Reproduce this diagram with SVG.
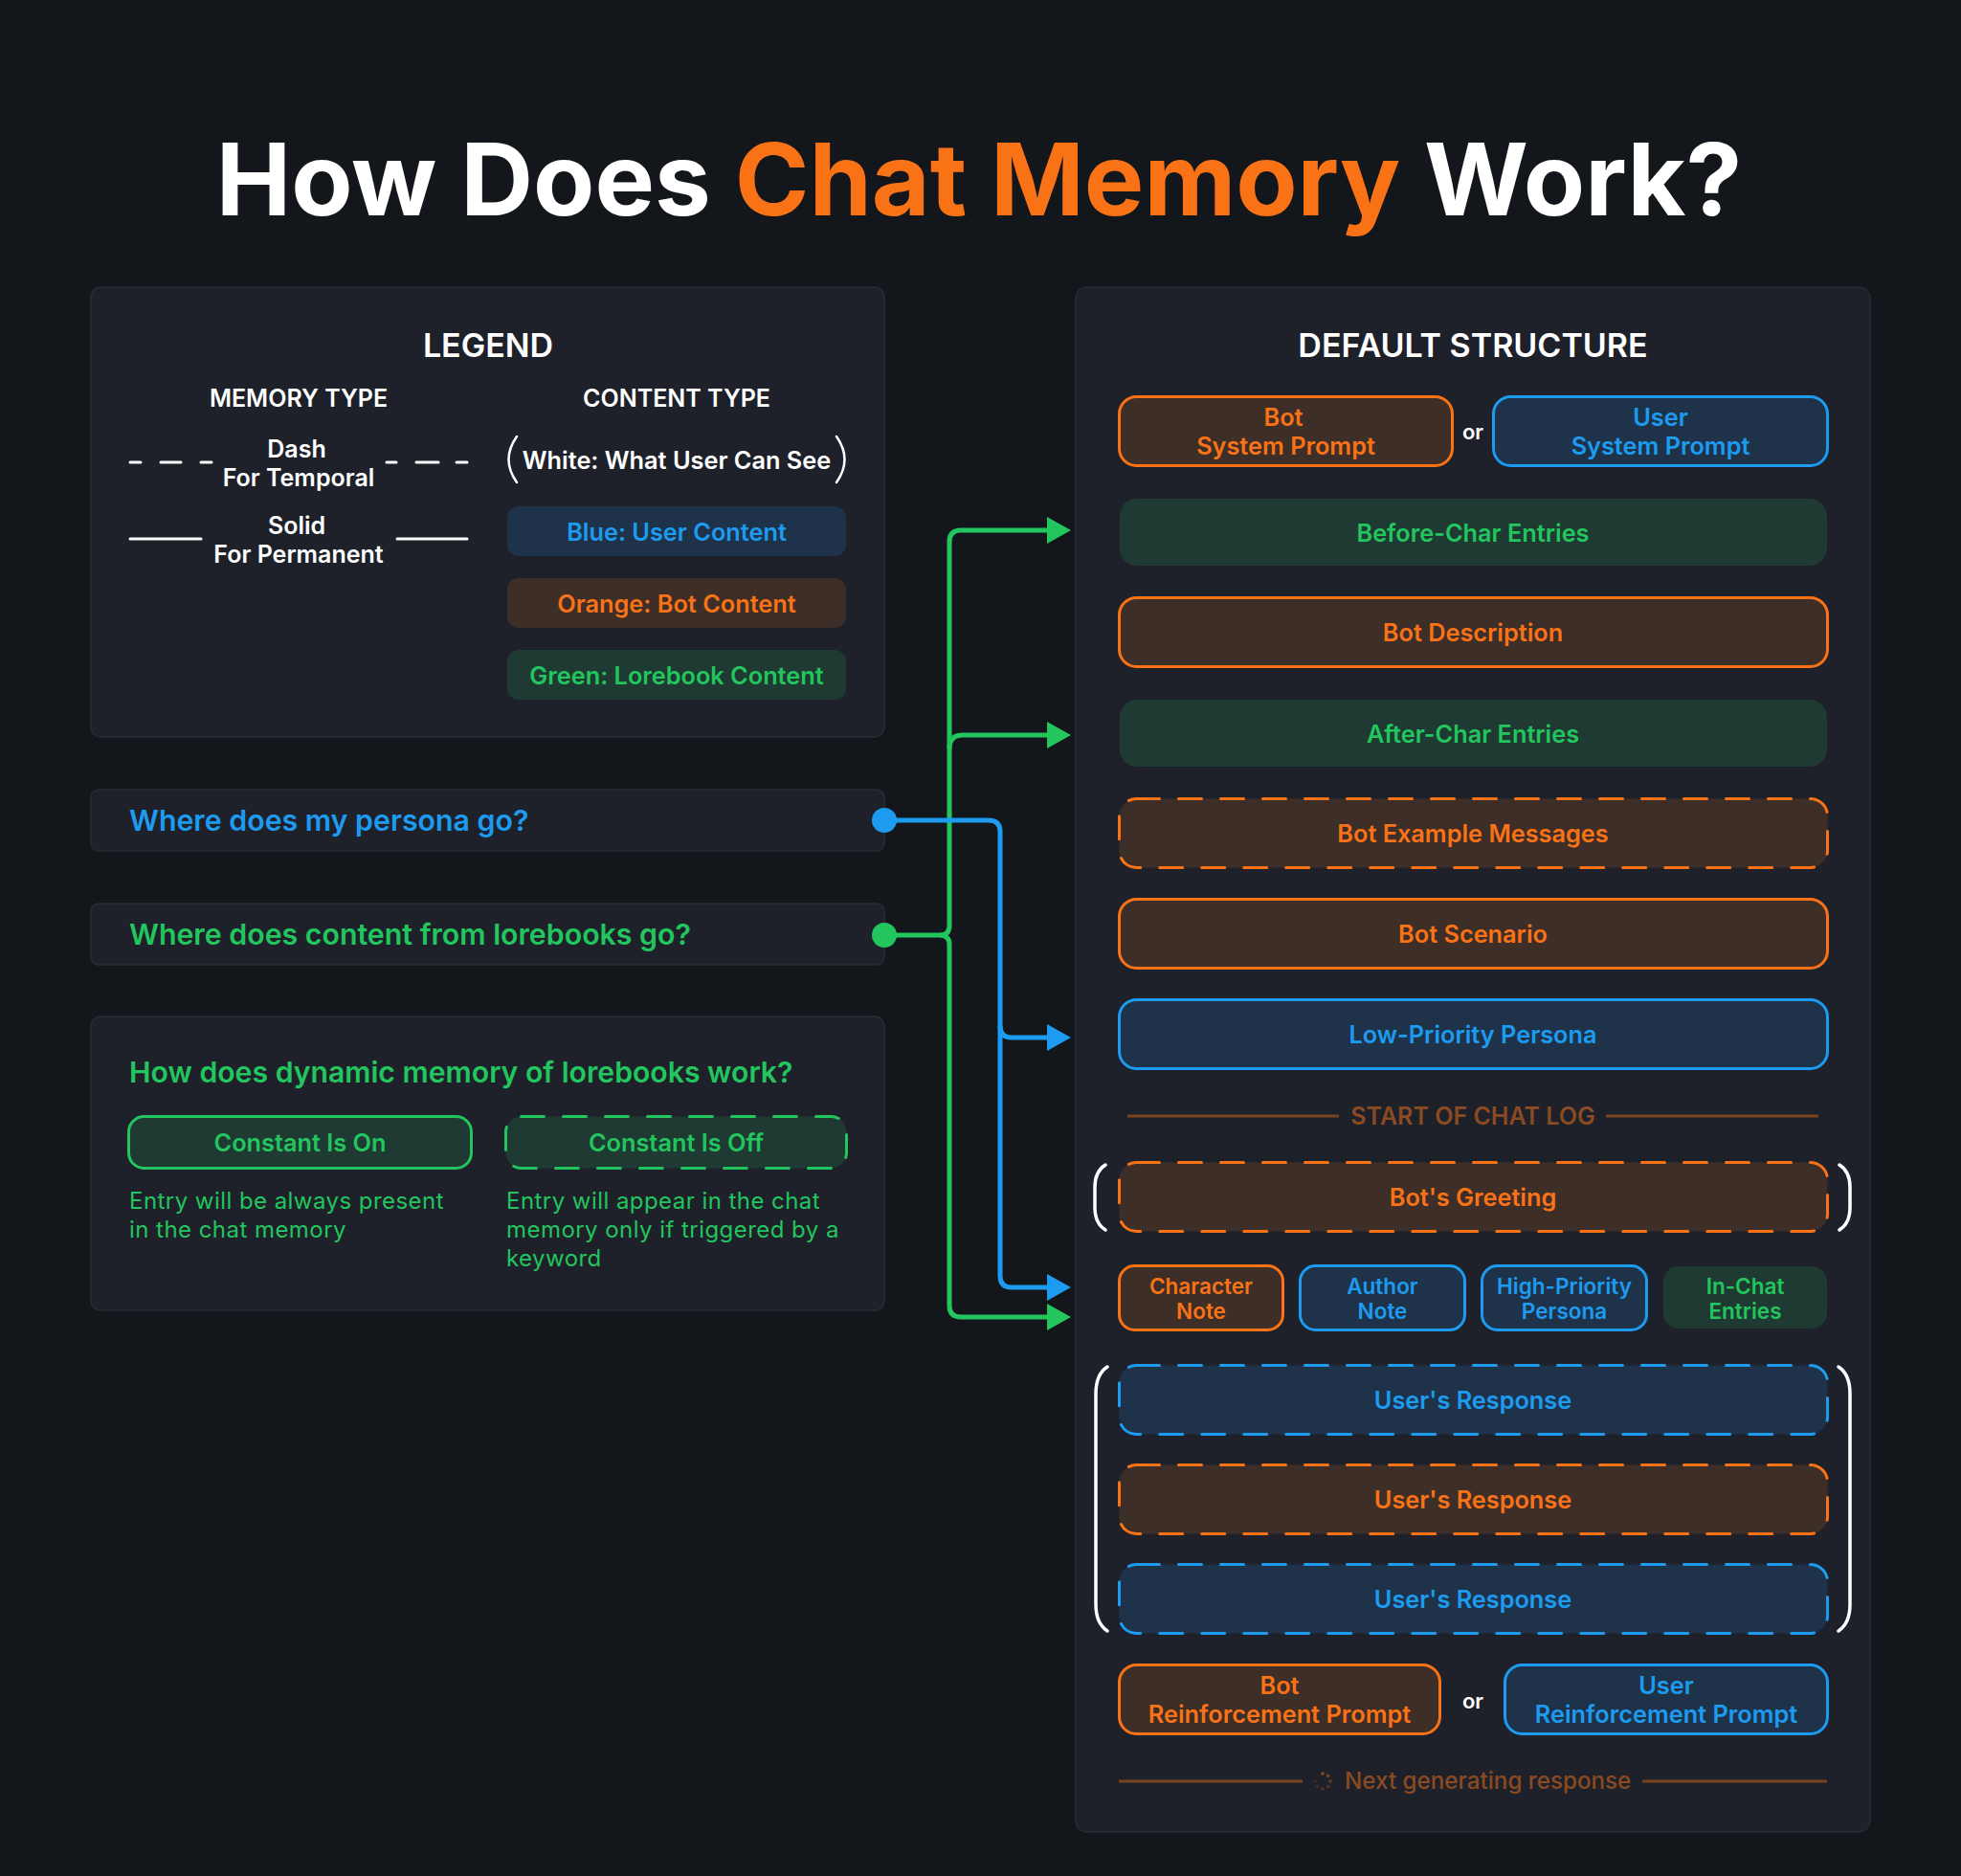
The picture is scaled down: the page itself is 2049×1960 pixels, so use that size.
<svg xmlns="http://www.w3.org/2000/svg" width="2049" height="1960" viewBox="0 0 2049 1960">
<defs>
<style>
text{font-family:Inter,"Noto Sans","Liberation Sans",sans-serif}
.h{font-size:34px;font-weight:600;fill:#fff;text-anchor:middle}
.sub{font-size:25px;font-weight:600;fill:#fff;text-anchor:middle}
.lbl{font-size:25.3px;font-weight:600;text-anchor:middle}
.sm{font-size:22.5px;font-weight:600;text-anchor:middle}
.orw{font-size:22px;font-weight:600;fill:#fff;text-anchor:middle}
.q{font-size:30.3px;font-weight:600}
.desc{font-size:24px;font-weight:400;fill:#22c55e;letter-spacing:0.45px}
.o{fill:#f97316}.u{fill:#1d9bf0}.g{fill:#22c55e}.w{fill:#fff}
.panel{fill:#1e2129;stroke:#282c35;stroke-width:1.5}
.bo{fill:#3e2e28;stroke:#f97316;stroke-width:3}
.bu{fill:#1e3349;stroke:#1d9bf0;stroke-width:3}
.bg{fill:#1f3a32;stroke:#22c55e;stroke-width:3}
.fo{fill:#3e2e28}.fu{fill:#1e3349}.fg{fill:#1f3a32}
.d{stroke-dasharray:24 20;stroke-linecap:round}
.brk{fill:none;stroke:#fff;stroke-width:3.5;stroke-linecap:round}
.wl{stroke:#fff;stroke-width:3;stroke-linecap:round}
.mute{fill:#8a4a22}
.ml{stroke:#7a4420;stroke-width:3}
.cg{fill:none;stroke:#22c55e;stroke-width:5;stroke-linejoin:round}
.cb{fill:none;stroke:#1d9bf0;stroke-width:5;stroke-linejoin:round}
</style>
<marker id="ag" markerUnits="userSpaceOnUse" markerWidth="26" markerHeight="30" viewBox="0 0 26 30" refX="3" refY="15" orient="auto"><path d="M0,1 L25,15 L0,29 Z" fill="#22c55e"/></marker>
<marker id="ab" markerUnits="userSpaceOnUse" markerWidth="26" markerHeight="30" viewBox="0 0 26 30" refX="3" refY="15" orient="auto"><path d="M0,1 L25,15 L0,29 Z" fill="#1d9bf0"/></marker>
</defs>

<rect x="0" y="0" width="2049" height="1960" fill="#13161b"/>

<text id="title" x="1023" y="225" font-size="105" font-weight="700" text-anchor="middle" fill="#fff">How Does <tspan fill="#f97316">Chat Memory</tspan> Work?</text>

<!-- LEGEND -->
<g id="legend">
<rect class="panel" x="95" y="300" width="829" height="470" rx="10"/>
<text class="h" x="510" y="373">LEGEND</text>
<text class="sub" x="312" y="425">MEMORY TYPE</text>
<text class="sub" x="707" y="425">CONTENT TYPE</text>
<g id="legend-dash">
<line class="wl" x1="136" y1="483" x2="147" y2="483"/>
<line class="wl" x1="168" y1="483" x2="189" y2="483"/>
<line class="wl" x1="210" y1="483" x2="221" y2="483"/>
<line class="wl" x1="404" y1="483" x2="414" y2="483"/>
<line class="wl" x1="435" y1="483" x2="458" y2="483"/>
<line class="wl" x1="477" y1="483" x2="488" y2="483"/>
<text class="sub" x="310" y="478">Dash</text>
<text class="sub" x="312" y="508">For Temporal</text>
</g>
<g id="legend-solid">
<line class="wl" x1="136" y1="563" x2="210" y2="563"/>
<line class="wl" x1="415" y1="563" x2="488" y2="563"/>
<text class="sub" x="310" y="558">Solid</text>
<text class="sub" x="312" y="588">For Permanent</text>
</g>
<g id="legend-white">
<path class="brk" style="stroke-width:2.5" d="M540,456 Q523,480 540,504"/>
<path class="brk" style="stroke-width:2.5" d="M874,456 Q891,480 874,504"/>
<text class="lbl w" x="707" y="489.5">White: What User Can See</text>
</g>
<g id="legend-blue">
<rect class="fu" x="530" y="529" width="354" height="52" rx="12"/>
<text class="lbl u" x="707" y="564.5">Blue: User Content</text>
</g>
<g id="legend-orange">
<rect class="fo" x="530" y="604" width="354" height="52" rx="12"/>
<text class="lbl o" x="707" y="639.5">Orange: Bot Content</text>
</g>
<g id="legend-green">
<rect class="fg" x="530" y="679" width="354" height="52" rx="12"/>
<text class="lbl g" x="707" y="714.5">Green: Lorebook Content</text>
</g>
</g>

<!-- Questions -->
<g id="q-persona">
<rect class="panel" x="95" y="825" width="829" height="64" rx="8"/>
<text class="q u" x="135" y="868">Where does my persona go?</text>
</g>
<g id="q-lorebook">
<rect class="panel" x="95" y="944" width="829" height="64" rx="8"/>
<text class="q g" x="135" y="987">Where does content from lorebooks go?</text>
</g>

<g id="dynamic">
<rect class="panel" x="95" y="1062" width="829" height="307" rx="10"/>
<text class="g" x="135" y="1131" font-size="30.2" font-weight="600">How does dynamic memory of lorebooks work?</text>
<g id="const-on">
<rect class="bg" x="134.5" y="1166.5" width="358" height="54" rx="16"/>
<text class="lbl g" x="313.5" y="1203">Constant Is On</text>
<text class="desc" x="135" y="1263">Entry will be always present</text>
<text class="desc" x="135" y="1293">in the chat memory</text>
</g>
<g id="const-off">
<rect class="bg d" x="528.5" y="1166.5" width="356" height="54" rx="16"/>
<text class="lbl g" x="706.5" y="1203">Constant Is Off</text>
<text class="desc" x="529" y="1263">Entry will appear in the chat</text>
<text class="desc" x="529" y="1293">memory only if triggered by a</text>
<text class="desc" x="529" y="1323">keyword</text>
</g>
</g>

<!-- DEFAULT STRUCTURE -->
<g id="default-structure">
<rect class="panel" x="1124" y="300" width="830" height="1614" rx="12"/>
<text class="h" x="1539" y="373">DEFAULT STRUCTURE</text>

<g id="bot-system-prompt">
<rect class="bo" x="1169.5" y="414.5" width="348" height="72" rx="18"/>
<text class="lbl o" x="1341" y="445">Bot</text>
<text class="lbl o" x="1343.5" y="475">System Prompt</text>
</g>
<text class="orw" x="1539" y="459">or</text>
<g id="user-system-prompt">
<rect class="bu" x="1560.5" y="414.5" width="349" height="72" rx="18"/>
<text class="lbl u" x="1735" y="445">User</text>
<text class="lbl u" x="1735" y="475">System Prompt</text>
</g>

<g id="before-char">
<rect class="fg" x="1170" y="521" width="739" height="70" rx="18"/>
<text class="lbl g" x="1539" y="565.5">Before-Char Entries</text>
</g>
<g id="bot-description">
<rect class="bo" x="1169.5" y="624.5" width="740" height="72" rx="18"/>
<text class="lbl o" x="1539" y="670">Bot Description</text>
</g>
<g id="after-char">
<rect class="fg" x="1170" y="731" width="739" height="70" rx="18"/>
<text class="lbl g" x="1539" y="775.5">After-Char Entries</text>
</g>
<g id="bot-example">
<rect class="bo d" x="1169.5" y="834.5" width="740" height="72" rx="18"/>
<text class="lbl o" x="1539" y="880">Bot Example Messages</text>
</g>
<g id="bot-scenario">
<rect class="bo" x="1169.5" y="939.5" width="740" height="72" rx="18"/>
<text class="lbl o" x="1539" y="985">Bot Scenario</text>
</g>
<g id="low-priority-persona">
<rect class="bu" x="1169.5" y="1044.5" width="740" height="72" rx="18"/>
<text class="lbl u" x="1539" y="1090">Low-Priority Persona</text>
</g>

<g id="start-chat-log">
<line class="ml" x1="1178" y1="1166" x2="1399" y2="1166"/>
<line class="ml" x1="1678" y1="1166" x2="1900" y2="1166"/>
<text class="mute" x="1539" y="1175" font-size="25" font-weight="600" text-anchor="middle">START OF CHAT LOG</text>
</g>

<g id="bots-greeting">
<path class="brk" d="M1155,1217 Q1144,1224 1144,1240 V1262 Q1144,1278 1155,1285"/>
<path class="brk" d="M1922,1217 Q1933,1224 1933,1240 V1262 Q1933,1278 1922,1285"/>
<rect class="bo d" x="1169.5" y="1214.5" width="740" height="72" rx="18"/>
<text class="lbl o" x="1539" y="1260">Bot's Greeting</text>
</g>

<g id="character-note">
<rect class="bo" x="1169.5" y="1322.5" width="171" height="67" rx="16"/>
<text class="sm o" x="1255" y="1352">Character</text>
<text class="sm o" x="1255" y="1378">Note</text>
</g>
<g id="author-note">
<rect class="bu" x="1358.5" y="1322.5" width="172" height="67" rx="16"/>
<text class="sm u" x="1444.5" y="1352">Author</text>
<text class="sm u" x="1444.5" y="1378">Note</text>
</g>
<g id="high-priority-persona">
<rect class="bu" x="1548.5" y="1322.5" width="172" height="67" rx="16"/>
<text class="sm u" x="1634.5" y="1352">High-Priority</text>
<text class="sm u" x="1634.5" y="1378">Persona</text>
</g>
<g id="in-chat-entries">
<rect class="fg" x="1738" y="1323" width="171" height="65" rx="16"/>
<text class="sm g" x="1823.5" y="1352">In-Chat</text>
<text class="sm g" x="1823.5" y="1378">Entries</text>
</g>

<g id="responses">
<path class="brk" d="M1157,1428 Q1145,1436 1145,1456 V1676 Q1145,1696 1157,1704"/>
<path class="brk" d="M1921,1428 Q1933,1436 1933,1456 V1676 Q1933,1696 1921,1704"/>
<g id="users-response-1">
<rect class="bu d" x="1169.5" y="1426.5" width="740" height="72" rx="18"/>
<text class="lbl u" x="1539" y="1472">User's Response</text>
</g>
<g id="users-response-2">
<rect class="bo d" x="1169.5" y="1530.5" width="740" height="72" rx="18"/>
<text class="lbl o" x="1539" y="1576">User's Response</text>
</g>
<g id="users-response-3">
<rect class="bu d" x="1169.5" y="1634.5" width="740" height="72" rx="18"/>
<text class="lbl u" x="1539" y="1680">User's Response</text>
</g>
</g>

<g id="bot-reinforcement">
<rect class="bo" x="1169.5" y="1739.5" width="335" height="72" rx="18"/>
<text class="lbl o" x="1337" y="1770">Bot</text>
<text class="lbl o" x="1337" y="1800">Reinforcement Prompt</text>
</g>
<text class="orw" x="1539" y="1785">or</text>
<g id="user-reinforcement">
<rect class="bu" x="1572.5" y="1739.5" width="337" height="72" rx="18"/>
<text class="lbl u" x="1741" y="1770">User</text>
<text class="lbl u" x="1741" y="1800">Reinforcement Prompt</text>
</g>

<g id="next-response">
<line class="ml" x1="1169" y1="1861" x2="1361" y2="1861"/>
<line class="ml" x1="1716" y1="1861" x2="1909" y2="1861"/>
<g class="mute">
<circle cx="1382" cy="1853" r="1.8"/>
<circle cx="1387.7" cy="1855.3" r="1.8" opacity="0.85"/>
<circle cx="1390" cy="1861" r="1.8" opacity="0.7"/>
<circle cx="1387.7" cy="1866.7" r="1.8" opacity="0.55"/>
<circle cx="1382" cy="1869" r="1.8" opacity="0.45"/>
<circle cx="1376.3" cy="1866.7" r="1.8" opacity="0.35"/>
<circle cx="1374" cy="1861" r="1.8" opacity="0.25"/>
<circle cx="1376.3" cy="1855.3" r="1.8" opacity="0.15"/>
</g>
<text class="mute" x="1405" y="1869" font-size="24.2" font-weight="500">Next generating response</text>
</g>
</g>

<!-- CONNECTORS -->
<g id="connectors">
<path class="cg" d="M924,977 H982 Q992,977 992,967 V566 Q992,554 1004,554 H1097" marker-end="url(#ag)"/>
<path class="cg" d="M992,782 Q992,768 1006,768 H1097" marker-end="url(#ag)"/>
<path class="cg" d="M982,977 Q992,977 992,987 V1364 Q992,1376 1004,1376 H1097" marker-end="url(#ag)"/>
<path class="cb" d="M924,857 H1033 Q1045,857 1045,869 V1333 Q1045,1345 1057,1345 H1097" marker-end="url(#ab)"/>
<path class="cb" d="M1045,1072 Q1045,1084 1057,1084 H1097" marker-end="url(#ab)"/>
<circle cx="924" cy="857" r="13" fill="#1d9bf0"/>
<circle cx="924" cy="977" r="13" fill="#22c55e"/>
</g>
</svg>
